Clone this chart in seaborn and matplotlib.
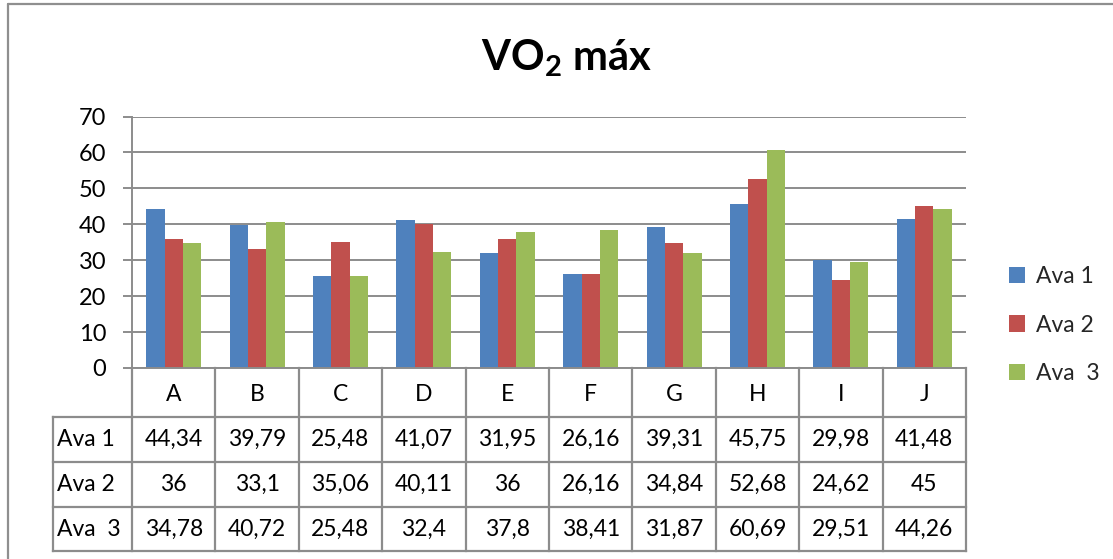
import matplotlib
matplotlib.use("Agg")
import matplotlib.pyplot as plt
import seaborn as sns
import pandas as pd

# Data
categories = ["A", "B", "C", "D", "E", "F", "G", "H", "I", "J"]
series_names = ["Ava 1", "Ava 2", "Ava  3"]
ava1 = [44.34, 39.79, 25.48, 41.07, 31.95, 26.16, 39.31, 45.75, 29.98, 41.48]
ava2 = [36, 33.1, 35.06, 40.11, 36, 26.16, 34.84, 52.68, 24.62, 45]
ava3 = [34.78, 40.72, 25.48, 32.4, 37.8, 38.41, 31.87, 60.69, 29.51, 44.26]
colors = ["#4F81BD", "#C0504D", "#9BBB59"]
yticks = [0, 10, 20, 30, 40, 50, 60, 70]

sns.set_theme(style="white")
FONT = ["Lato", "DejaVu Sans"]
plt.rcParams["font.family"] = FONT
plt.rcParams["mathtext.fontset"] = "custom"
plt.rcParams["mathtext.rm"] = "Lato"
plt.rcParams["mathtext.bf"] = "Lato:bold"

GRID = "#8C8C8C"
TXT = 16.5
W, H = 1113, 559
fig = plt.figure(figsize=(W / 100, H / 100), dpi=100)
fig.patch.set_facecolor("white")


def fx(px):
    return px / W


def fy(py):
    return 1 - py / H


# chart area border (left and top edges)
fig.add_artist(plt.Line2D([fx(8), fx(8)], [fy(4), 0], color="#8F8F8F", lw=1.6,
                          transform=fig.transFigure))
fig.add_artist(plt.Line2D([fx(8), 1], [fy(4), fy(4)], color="#8F8F8F", lw=1.6,
                          transform=fig.transFigure))

# plot area
left, right, top, bottom = 132, 966, 116.5, 368
ax = fig.add_axes([fx(left), fy(bottom), fx(right - left), (bottom - top) / H])

df = pd.DataFrame({
    "cat": categories * 3,
    "serie": sum([[s] * len(categories) for s in series_names], []),
    "valor": ava1 + ava2 + ava3,
})
sns.barplot(data=df, x="cat", y="valor", hue="serie", hue_order=series_names,
            order=categories, palette=colors, saturation=1, width=0.66, gap=0,
            ax=ax, legend=True, edgecolor="none", linewidth=0)

ax.set_xlim(-0.5, len(categories) - 0.5)
ax.set_ylim(0, 70)
ax.set_yticks(yticks)
ax.set_yticklabels([str(t) for t in yticks], fontsize=17)
ax.set_xticks([])
ax.set_xlabel("")
ax.set_ylabel("")
ax.yaxis.grid(True, color=GRID, lw=1.4)
ax.set_axisbelow(True)
for s in ["top", "right"]:
    ax.spines[s].set_visible(False)
for s in ["left", "bottom"]:
    ax.spines[s].set_color(GRID)
    ax.spines[s].set_linewidth(1.4)
ax.tick_params(axis="y", which="both", left=True, length=6.5, width=1.4,
               color=GRID, pad=12, labelcolor="black")

# legend
handles, labels = ax.get_legend_handles_labels()
ax.get_legend().remove()
fig.legend(handles, series_names, loc="center left",
           bbox_to_anchor=(fx(1000), fy(325)), frameon=False, fontsize=TXT,
           handlelength=0.7, handleheight=0.7, handletextpad=0.45,
           labelspacing=1.2, borderaxespad=0)

# title
fig.text(fx(566), fy(70), r"VO$_{\mathbf{2}}$ máx", ha="center", va="baseline",
         fontsize=30, fontweight="bold", color="black")

# data table under the plot
tleft, tbottom = 53, 551
row_edges = [368, 417, 462, 507, 551]
cat_w = (right - left) / len(categories)
xl = -0.5 - (left - tleft) / cat_w
axt = fig.add_axes([fx(tleft), fy(tbottom), fx(right - tleft), (tbottom - bottom) / H])
axt.set_xlim(xl, len(categories) - 0.5)
axt.set_ylim(row_edges[-1], row_edges[0])
axt.axis("off")

LW = 1.6
n = len(categories)
# vertical separators
for i in range(n + 1):
    axt.plot([i - 0.5, i - 0.5], [row_edges[0], row_edges[-1]], color=GRID, lw=LW,
             solid_capstyle="projecting", clip_on=False)
axt.plot([xl, xl], [row_edges[1], row_edges[-1]], color=GRID, lw=LW,
         solid_capstyle="projecting", clip_on=False)
# horizontal separators
for y in row_edges[1:]:
    axt.plot([xl, n - 0.5], [y, y], color=GRID, lw=LW,
             solid_capstyle="projecting", clip_on=False)

# header row
hy = (row_edges[0] + row_edges[1]) / 2
for i, c in enumerate(categories):
    axt.text(i, hy + 2, c, ha="center", va="center", fontsize=TXT, color="black")


def fmt(v):
    return f"{v:g}".replace(".", ",")


for r, (name, vals) in enumerate(zip(series_names, [ava1, ava2, ava3])):
    cy = (row_edges[r + 1] + row_edges[r + 2]) / 2
    axt.text(xl + 0.05, cy, name, ha="left", va="center", fontsize=TXT, color="black")
    for i, v in enumerate(vals):
        axt.text(i, cy, fmt(v), ha="center", va="center", fontsize=TXT, color="black")

fig.savefig("out.png", dpi=100, facecolor="white")
